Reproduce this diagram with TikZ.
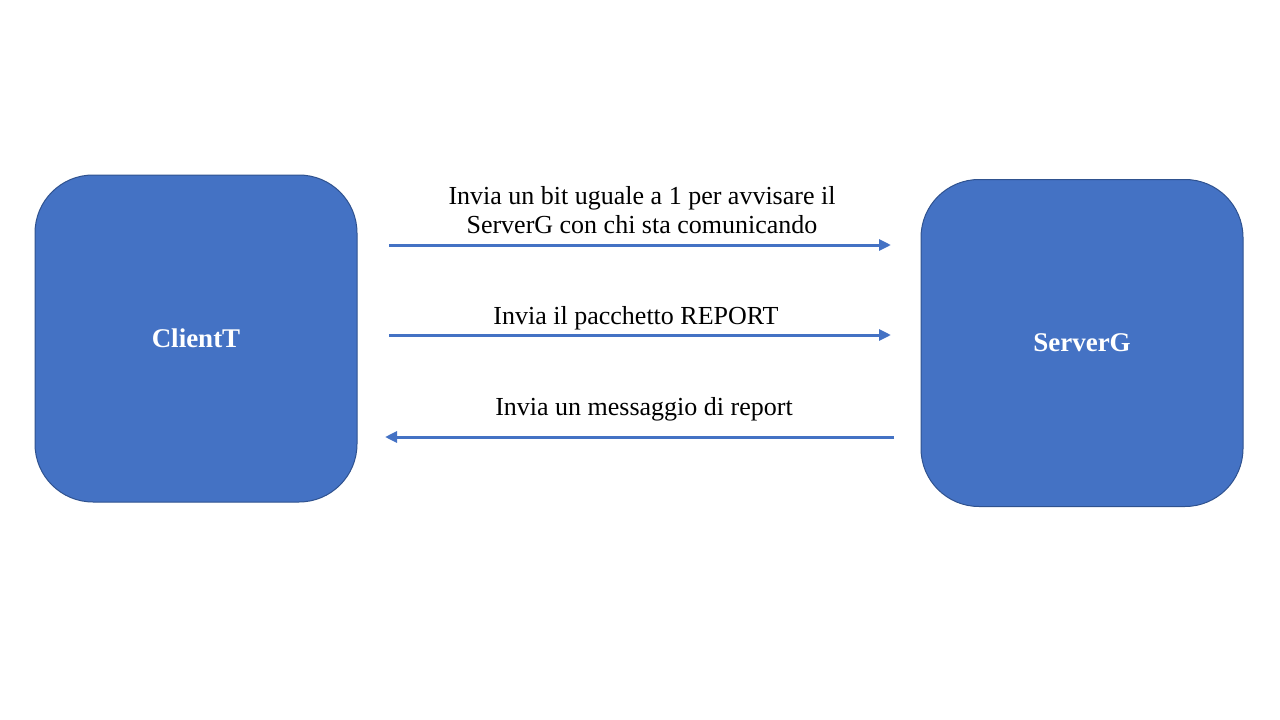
\documentclass[tikz,border=0pt]{standalone}
\usepackage{fontspec}
\setmainfont{Liberation Serif}
\usetikzlibrary{arrows.meta}
\definecolor{boxfill}{HTML}{4472C4}
\definecolor{boxline}{HTML}{2F528F}
\tikzset{
  party/.style={draw=boxline, line width=1pt, fill=boxfill, rounded corners=58pt,
    minimum width=322pt, minimum height=327pt, inner sep=0pt,
    text=white, font=\fontsize{27}{30}\selectfont\bfseries},
  msg/.style={draw=boxfill, line width=3pt, -{Triangle[length=12pt,width=11pt]}},
  lbl/.style={font=\fontsize{26}{29}\selectfont, align=center, inner sep=0pt, text=black}
}
\begin{document}
\begin{tikzpicture}[x=1pt,y=-1pt]
\useasboundingbox (0,0) rectangle (1280,720);
\node[party] (client) at (196,338.5) {ClientT};
\node[party] (server) at (1082,343) {ServerG};
\coordinate (a1s) at (389,245);
\coordinate (a1e) at (891,245);
\coordinate (a2s) at (389,335);
\coordinate (a2e) at (891,335);
\coordinate (a3s) at (894,437);
\coordinate (a3e) at (385,437);
\draw[msg] (a1s) -- (a1e);
\draw[msg] (a2s) -- (a2e);
\draw[msg] (a3s) -- (a3e);
\node[lbl] (t1) at (642,210) {Invia un bit uguale a 1 per avvisare il\\ServerG con chi sta comunicando};
\node[lbl] (t2) at (636,318) {Invia il pacchetto REPORT};
\node[lbl] (t3) at (644,409) {Invia un messaggio di report};
\end{tikzpicture}
\end{document}
